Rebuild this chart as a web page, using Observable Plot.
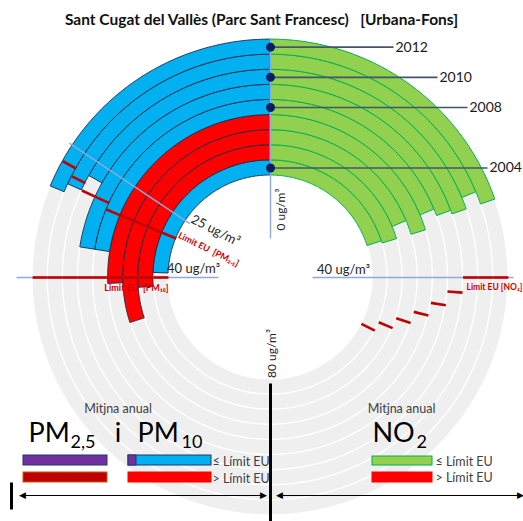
<!DOCTYPE html>
<html><head><meta charset="utf-8">
<script src="https://cdn.jsdelivr.net/npm/d3@7"></script>
<script src="https://cdn.jsdelivr.net/npm/@observablehq/plot@0.6"></script>
<style>
html,body{margin:0;padding:0;background:#fff;overflow:hidden;}
#title{height:30px;line-height:38px;text-align:center;font-family:Lato,"Open Sans",sans-serif;font-weight:bold;font-size:15.5px;color:#111;white-space:pre;}
#chart svg{display:block;}
</style></head><body>
<div id="title">Sant Cugat del Vallès (Parc Sant Francesc)   [Urbana-Fons]</div>
<div id="chart"></div>
<script>
// ---- data ----
const years = [2004, 2005, 2006, 2007, 2008, 2009, 2010, 2011, 2012];
const pm10 = [39, 42, 48, 41, 36, 36, 27, 29, 30];
const no2 = [32, 32.5, 30, 32.5, 30, 31, 31.5, 30, 31.5];
const pm10Limit = [40, 40, 40, 40, 40, 40, 40, 40, 40];
const pm25Limit = [30, 30, 30, 30, 30, 29, 29, 28, 27];
const no2Limit = [52, 50, 48, 46, 44, 42, 40, 40, 40];
const labeledYears = [2004, 2008, 2010, 2012];
const fullTurn = 160; // ug/m3 for a full circle (80 at the bottom)

// ---- geometry helpers ----
const R0 = 102, BW = 15.1;
const rIn = i => R0 + BW * i, rOut = i => R0 + BW * (i + 1), rMid = i => R0 + BW * (i + 0.5);
const angle = d3.scaleLinear().domain([0, fullTurn]).range([0, 2 * Math.PI]);
const polar = (v, r, side) => [side * r * Math.sin(angle(v)), r * Math.cos(angle(v))];

const C = {blue: "#00b0f0", red: "#ff0000", green: "#92d050", gray: "#efefef", limit: "#c00000",
  guide: "#8eaadb", navy: "#002060", slate: "#44546a", text: "#404040"};

function sector(key, side, i, v0, v1, fill, stroke) {
  const a = rIn(i), b = rOut(i);
  const n = Math.max(2, Math.ceil(Math.abs(v1 - v0) * 3));
  const rows = [];
  for (let k = 0; k <= n; k++) {
    const v = v0 + (v1 - v0) * k / n;
    const [xo, yo] = polar(v, b, side), [xi, yi] = polar(v, a, side);
    rows.push({key, fill, stroke, x1: xo, y1: yo, x2: xi, y2: yi});
  }
  return rows;
}

const grayRows = years.flatMap((y, i) => sector("g" + y, 1, i, 0, fullTurn, C.gray, "#ffffff"));
const pmRows = years.flatMap((y, i) => sector("pm" + y, -1, i, 0, pm10[i], pm10[i] > pm10Limit[i] ? C.red : C.blue, "#1e2a40"));
const noRows = years.flatMap((y, i) => sector("no" + y, 1, i, 0, no2[i], no2[i] > no2Limit[i] ? C.red : C.green, "#00b050"));

function ticks(values, side) {
  return values.map((v, i) => {
    const [x1, y1] = polar(v, rIn(i), side), [x2, y2] = polar(v, rOut(i), side);
    return {x1, y1, x2, y2};
  });
}
const limitRows = [...ticks(pm10Limit, -1), ...ticks(pm25Limit, -1), ...ticks(no2Limit, 1)];

// guide (axis) lines at 0, 25, 40 (left), 40 (right): [value, side, inner r, outer r]
const guideSpec = [[0, 1, 39, 238], [25, -1, 97, 242], [40, -1, 52, 254], [40, 1, 42, 243]];
const guideRows = guideSpec.map(([v, side, r0, r1]) => {
  const [x1, y1] = polar(v, r0, side), [x2, y2] = polar(v, r1, side);
  return {x1, y1, x2, y2};
});

// year markers
const labelEnd = {2004: 217, 2008: 197, 2010: 167, 2012: 123};
const yearRows = labeledYears.map(y => {
  const i = years.indexOf(y);
  return {year: String(y), x: 0, y: rMid(i), xe: labelEnd[y]};
});

// legend
const legendRects = [
  {x1: -247, x2: -163, y1: -178, y2: -188, fill: "#7030a0", stroke: "#203864"},
  {x1: -247, x2: -163, y1: -195, y2: -205, fill: "#c00000", stroke: "#c55a11"},
  {x1: -142, x2: -59, y1: -178, y2: -188, fill: C.blue, stroke: "#203864"},
  {x1: -142, x2: -134, y1: -178, y2: -188, fill: "#7030a0", stroke: "#203864"},
  {x1: -142, x2: -59, y1: -195, y2: -205, fill: C.red, stroke: "#ff0000"},
  {x1: 102, x2: 162, y1: -179, y2: -188, fill: C.green, stroke: "#00b050"},
  {x1: 102, x2: 162, y1: -195, y2: -205, fill: C.red, stroke: "#ff0000"}
];
const legendTexts = [
  {t: "≤ Límit EU", x: -58, y: -184}, {t: "> Límit EU", x: -58, y: -201},
  {t: "≤ Límit EU", x: 165, y: -184}, {t: "> Límit EU", x: 165, y: -200}
];

const font = "Lato, 'Open Sans', sans-serif";

const chart = Plot.plot({
  width: 523, height: 491, margin: 0,
  x: {domain: [-270, 253], axis: null},
  y: {domain: [-244, 247], axis: null},
  color: {type: "identity"},
  style: {fontFamily: font, background: "white", overflow: "visible"},
  marks: [
    Plot.area(grayRows, {x1: "x1", y1: "y1", x2: "x2", y2: "y2", z: "key", fill: "fill", stroke: "stroke", strokeWidth: 1.2}),
    Plot.area(pmRows, {x1: "x1", y1: "y1", x2: "x2", y2: "y2", z: "key", fill: "fill", stroke: "stroke", strokeWidth: 0.9}),
    Plot.area(noRows, {x1: "x1", y1: "y1", x2: "x2", y2: "y2", z: "key", fill: "fill", stroke: "stroke", strokeWidth: 1}),
    Plot.link(guideRows, {x1: "x1", y1: "y1", x2: "x2", y2: "y2", stroke: C.guide, strokeWidth: 1.4}),
    Plot.link(limitRows, {x1: "x1", y1: "y1", x2: "x2", y2: "y2", stroke: C.limit, strokeWidth: 2.6}),
    Plot.link(yearRows, {x1: "x", y1: "y", x2: "xe", y2: "y", stroke: C.slate, strokeWidth: 1.6}),
    Plot.dot(yearRows, {x: "x", y: "y", r: 4.5, fill: C.navy, stroke: "none"}),
    Plot.text(yearRows, {x: d => d.xe + 2, y: "y", text: "year", textAnchor: "start", fontSize: 14, fill: "#1a1a1a"}),
    // guide labels
    Plot.text(["25 ug/m³"], {x: -55, y: 47, rotate: 27, fontSize: 13, fill: "#262626"}),
    Plot.text(["Limit EU  [PM₂.₅]"], {x: -62, y: 28, rotate: 26, fontSize: 9, fontWeight: "bold", fill: "#d00000"}),
    Plot.text(["40 ug/m³"], {x: -77, y: 9, fontSize: 13, fill: "#262626"}),
    Plot.text(["Limit EU  [PM₁₀]"], {x: -134, y: -11, fontSize: 9, fontWeight: "bold", fill: "#d00000"}),
    Plot.text(["40 ug/m³"], {x: 73, y: 8, fontSize: 13, fill: "#262626"}),
    Plot.text(["Limit EU [NO₂]"], {x: 196, y: -10, textAnchor: "start", fontSize: 8.5, fontWeight: "bold", fill: "#d00000"}),
    Plot.text(["0 ug/m³"], {x: 11, y: 68, rotate: -90, fontSize: 12, fill: "#262626"}),
    Plot.text(["80 ug/m³"], {x: 2, y: -76, rotate: -90, fontSize: 12, fill: "#262626"}),
    // separator + arrows
    Plot.link([{x1: 0, y1: -106, x2: 0, y2: -244}, {x1: -259, y1: -205, x2: -259, y2: -232}], {x1: "x1", y1: "y1", x2: "x2", y2: "y2", stroke: "#000", strokeWidth: 3}),
    Plot.link([{x1: -248, x2: -7}, {x1: 9, x2: 250}], {x1: "x1", x2: "x2", y1: -218, y2: -218, stroke: "#000", strokeWidth: 1.2}),
    Plot.text([{x: -248, t: "◀"}, {x: 9, t: "◀"}], {x: "x", y: -218, text: "t", textAnchor: "middle", fontSize: 9, fontFamily: "DejaVu Sans", fill: "#000"}),
    Plot.text([{x: -7, t: "▶"}, {x: 250, t: "▶"}], {x: "x", y: -218, text: "t", textAnchor: "middle", fontSize: 9, fontFamily: "DejaVu Sans", fill: "#000"}),
    // legend
    Plot.text(["Mitjna anual"], {x: -152.5, y: -131, fontSize: 12.5, fill: C.text}),
    Plot.text(["Mitjna anual"], {x: 131, y: -131, fontSize: 12.5, fill: C.text}),
    Plot.text(["PM"], {x: -242, y: -155.5, textAnchor: "start", fontSize: 27, fill: "#000"}),
    Plot.text(["2,5"], {x: -200, y: -165, textAnchor: "start", fontSize: 18, fill: "#000"}),
    Plot.text(["i"], {x: -152.5, y: -155.5, fontSize: 27, fill: "#000"}),
    Plot.text(["PM"], {x: -133, y: -155.5, textAnchor: "start", fontSize: 27, fill: "#000"}),
    Plot.text(["10"], {x: -89, y: -165, textAnchor: "start", fontSize: 18, fill: "#000"}),
    Plot.text(["NO"], {x: 102, y: -155.5, textAnchor: "start", fontSize: 27, fill: "#000"}),
    Plot.text(["2"], {x: 146, y: -165, textAnchor: "start", fontSize: 18, fill: "#000"}),
    Plot.rect(legendRects, {x1: "x1", x2: "x2", y1: "y1", y2: "y2", fill: "fill", stroke: "stroke", strokeWidth: 1}),
    Plot.text(legendTexts, {x: "x", y: "y", text: "t", textAnchor: "start", fontSize: 12.5, fill: C.text})
  ]
});
document.getElementById("chart").appendChild(chart);
</script>
</body></html>
